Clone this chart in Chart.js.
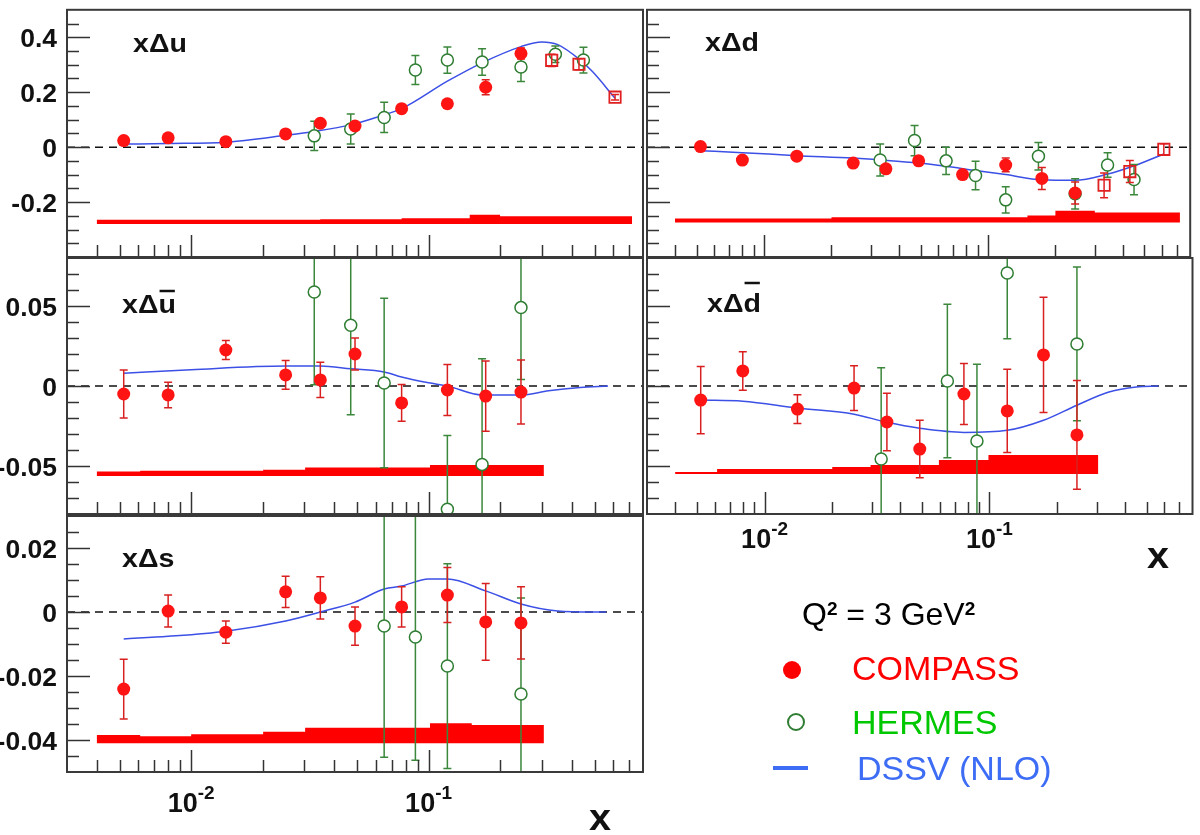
<!DOCTYPE html>
<html>
<head>
<meta charset="utf-8">
<script src="https://cdn.jsdelivr.net/npm/chart.js@4.4.1/dist/chart.umd.min.js"></script>
<style>
  html, body { margin: 0; padding: 0; background: #fff; }
  #wrap { position: relative; width: 1200px; height: 835px; overflow: hidden; font-family: "Liberation Sans", Arial, sans-serif; }
  #wrap canvas { position: absolute; left: 0; top: 0; }
  .leg { position: absolute; white-space: nowrap; font-size: 34px; line-height: 34px; }
  .sup { font-size: 19px; font-weight: bold; position: relative; top: -10px; }
</style>
</head>
<body>
<div id="wrap">
  <canvas id="cU" width="1200" height="835"></canvas>
  <canvas id="cD" width="1200" height="835"></canvas>
  <canvas id="cUbar" width="1200" height="835"></canvas>
  <canvas id="cDbar" width="1200" height="835"></canvas>
  <canvas id="cS" width="1200" height="835"></canvas>

  <div class="leg" style="left:802px; top:598px; font-size:32px; line-height:32px; color:#000;">Q<span class="sup">2</span> = 3 GeV<span class="sup">2</span></div>
  <div style="position:absolute; left:783px; top:661px; width:18px; height:18px; border-radius:50%; background:#ff0000;"></div>
  <div class="leg" style="left:852px; top:651px; color:#ff0000;">COMPASS</div>
  <div style="position:absolute; left:787px; top:713px; width:18px; height:18px; box-sizing:border-box; border-radius:50%; border:2.5px solid #2e7d32;"></div>
  <div class="leg" style="left:852px; top:705px; color:#00c800;">HERMES</div>
  <div style="position:absolute; left:773px; top:766px; width:35px; height:4px; background:#3d6cf5;"></div>
  <div class="leg" style="left:857px; top:751px; color:#3d6cf5;">DSSV (NLO)</div>
</div>

<script>
// x positions of the measured bins
const xCompass = [0.0052, 0.008, 0.014, 0.025, 0.035, 0.049, 0.077, 0.12, 0.174, 0.245];
const xHermes = [0.033, 0.047, 0.065, 0.088, 0.12, 0.168, 0.245, 0.342, 0.449];
const xHighX = [0.33, 0.43, 0.61];   // red open squares (top panels only)

// x Delta u
const uCompass = [0.024, 0.034, 0.020, 0.048, 0.087, 0.077, 0.140, 0.158, 0.218, 0.341];
const uCompassErr = [0.008, 0.008, 0.008, 0.008, 0.01, 0.01, 0.012, 0.012, 0.027, 0.02];
const uHermes = [0.041, 0.066, 0.108, 0.281, 0.317, 0.310, 0.292, 0.338, 0.317];
const uHermesErr = [0.053, 0.055, 0.055, 0.053, 0.048, 0.048, 0.053, 0.03, 0.047];
const uHighX = [0.316, 0.302, 0.182];
const uHighXErr = [0.022, 0.02, 0.01];
const uCurveX = [0.0052, 0.008, 0.014, 0.025, 0.033, 0.047, 0.062, 0.077, 0.12, 0.168, 0.245, 0.3, 0.35, 0.435, 0.49, 0.61];
const uCurveY = [0.011, 0.013, 0.018, 0.043, 0.057, 0.081, 0.112, 0.14, 0.24, 0.307, 0.366, 0.383, 0.373, 0.317, 0.275, 0.178];
const uBandEdges = [0.004, 0.035, 0.077, 0.149, 0.2, 0.41, 0.72];
const uBandTop = [-0.265, -0.264, -0.263, -0.259, -0.246, -0.252];
const uBandBase = -0.28;

// x Delta d
const dCompass = [0.002, -0.047, -0.033, -0.058, -0.079, -0.05, -0.1, -0.065, -0.114, -0.167];
const dCompassErr = [0.012, 0.008, 0.008, 0.008, 0.015, 0.01, 0.01, 0.025, 0.04, 0.04];
const dHermes = [-0.047, 0.024, -0.05, -0.103, -0.192, -0.033, -0.17, -0.065, -0.118];
const dHermesErr = [0.058, 0.055, 0.05, 0.052, 0.048, 0.05, 0.055, 0.045, 0.055];
const dHighX = [-0.139, -0.089, -0.008];
const dHighXErr = [0.045, 0.04, 0.02];
const dCurveX = [0.0052, 0.008, 0.014, 0.025, 0.035, 0.049, 0.065, 0.088, 0.12, 0.174, 0.245, 0.34, 0.45, 0.61];
const dCurveY = [-0.013, -0.02, -0.031, -0.04, -0.048, -0.058, -0.07, -0.085, -0.1, -0.119, -0.121, -0.099, -0.068, -0.025];
const dBandEdges = [0.004, 0.02, 0.15, 0.2, 0.3, 0.41, 0.72];
const dBandTop = [-0.268, -0.26, -0.255, -0.249, -0.232, -0.238];
const dBandBase = -0.274;

// x Delta u-bar
const ubCompass = [-0.005, -0.0056, 0.0225, 0.0069, 0.0038, 0.02, -0.0106, -0.0025, -0.0063, -0.0038];
const ubCompassErr = [0.015, 0.008, 0.006, 0.009, 0.011, 0.01, 0.0115, 0.016, 0.022, 0.02];
const ubHermes = [0.0588, 0.038, 0.0019, null, -0.077, -0.049, 0.049, null, null];
const ubHermesErr = [0.058, 0.056, 0.053, null, 0.046, 0.066, 0.045, null, null];
const ubCurveX = [0.0052, 0.01, 0.025, 0.035, 0.047, 0.065, 0.077, 0.1, 0.12, 0.168, 0.245, 0.32, 0.435, 0.57];
const ubCurveY = [0.008, 0.0102, 0.0125, 0.0125, 0.0108, 0.0088, 0.0056, 0.002, 0.0, -0.0056, -0.0056, -0.003, -0.001, 0.0];
const ubBandEdges = [0.004, 0.0061, 0.0201, 0.0302, 0.1014, 0.152, 0.306];
const ubBandTop = [-0.0525, -0.0535, -0.053, -0.0523, -0.051, -0.0494];
const ubBandBase = -0.0563;

// x Delta d-bar
const dbCompass = [-0.0088, 0.0094, -0.0144, -0.0013, -0.0225, -0.0394, -0.005, -0.0156, 0.0194, -0.0306];
const dbCompassErr = [0.021, 0.012, 0.009, 0.014, 0.018, 0.018, 0.019, 0.026, 0.036, 0.034];
const dbHermes = [-0.0456, null, 0.0031, -0.0344, 0.0706, null, 0.0263, null, null];
const dbHermesErr = [0.057, null, 0.048, 0.048, 0.041, null, 0.048, null, null];
const dbCurveX = [0.0052, 0.008, 0.014, 0.025, 0.035, 0.049, 0.077, 0.12, 0.174, 0.245, 0.34, 0.45, 0.565];
const dbCurveY = [-0.0088, -0.0095, -0.0138, -0.0176, -0.0227, -0.0264, -0.029, -0.0277, -0.0214, -0.012, -0.0038, -0.0006, 0];
const dbBandEdges = [0.004, 0.00615, 0.02, 0.0296, 0.0596, 0.099, 0.15, 0.305];
const dbBandTop = [-0.0513, -0.0538, -0.0519, -0.0506, -0.0494, -0.0463, -0.0431];
const dbBandBase = -0.055;

// x Delta s
const sCompass = [-0.0241, 0.0003, -0.0063, 0.0063, 0.0044, -0.0044, 0.0016, 0.0053, -0.0031, -0.0034];
const sCompassErr = [0.0093, 0.005, 0.0035, 0.0049, 0.0066, 0.006, 0.0063, 0.0086, 0.012, 0.0113];
const sHermes = [null, null, -0.0044, -0.0078, -0.0169, null, -0.0256, null, null];
const sHermesErr = [null, null, 0.041, 0.0385, 0.032, null, 0.03, null, null];
const sCurveX = [0.0052, 0.008, 0.014, 0.025, 0.035, 0.049, 0.065, 0.077, 0.1, 0.12, 0.174, 0.245, 0.35, 0.49, 0.56];
const sCurveY = [-0.0084, -0.0076, -0.006, -0.0028, 0, 0.0031, 0.0072, 0.0081, 0.0103, 0.0103, 0.0066, 0.0025, 0.0003, 0, 0];
const sBandEdges = [0.004, 0.0061, 0.01, 0.0201, 0.0302, 0.1014, 0.152, 0.203, 0.306];
const sBandTop = [-0.0362, -0.0384, -0.0388, -0.0382, -0.0374, -0.0362, -0.0348, -0.0353];
const sBandBase = -0.041;

const FONT = '"Liberation Sans", Arial, sans-serif';

function points(xs, ys, errs) {
    return xs.map((x, i) => ({ x: x, y: ys[i], e: errs ? errs[i] : 0 }))
        .filter(p => p.y !== null && p.y !== undefined);
}

// step-after outline of the systematic band
function bandPoints(edges, tops) {
    const pts = edges.slice(0, -1).map((x, i) => ({ x: x, y: tops[i] }));
    pts.push({ x: edges[edges.length - 1], y: tops[tops.length - 1] });
    return pts;
}

// bold text, slightly widened like the original
function boldText(ctx, s, x, y, size, align, sx) {
    ctx.save();
    ctx.font = 'bold ' + size + 'px ' + FONT;
    const w = ctx.measureText(s).width * sx;
    const x0 = align === 'right' ? x - w : (align === 'center' ? x - w / 2 : x);
    ctx.translate(x0, y);
    ctx.scale(sx, 1);
    ctx.textAlign = 'left';
    ctx.fillText(s, 0, 0);
    ctx.restore();
    return w;
}

const errorBars = {
    id: 'errorBars',
    beforeDatasetDraw(chart, args) {
        const ds = chart.data.datasets[args.index];
        if (!ds.errColor) return;
        const { ctx, chartArea: a, scales: { x, y } } = chart;
        ctx.save();
        ctx.beginPath();
        ctx.rect(a.left, a.top, a.right - a.left, a.bottom - a.top);
        ctx.clip();
        ctx.strokeStyle = ds.errColor;
        ctx.lineWidth = 1.5;
        ds.data.forEach(p => {
            if (!p.e) return;
            const px = x.getPixelForValue(p.x);
            const y1 = y.getPixelForValue(p.y + p.e);
            const y2 = y.getPixelForValue(p.y - p.e);
            ctx.beginPath();
            ctx.moveTo(px, y1); ctx.lineTo(px, y2);
            ctx.moveTo(px - 4, y1); ctx.lineTo(px + 4, y1);
            ctx.moveTo(px - 4, y2); ctx.lineTo(px + 4, y2);
            ctx.stroke();
        });
        ctx.restore();
    }
};

// ROOT-like frame: inward ticks, dashed zero line, labels
const rootAxes = {
    id: 'rootAxes',
    beforeDatasetsDraw(chart) {
        const { ctx, chartArea: a, scales: { y } } = chart;
        const y0 = y.getPixelForValue(0);
        ctx.save();
        ctx.strokeStyle = '#111';
        ctx.lineWidth = 1.5;
        ctx.setLineDash([8, 6]);
        ctx.beginPath();
        ctx.moveTo(a.left, y0);
        ctx.lineTo(a.right, y0);
        ctx.stroke();
        ctx.restore();
    },
    afterDraw(chart, args, opts) {
        const { ctx, chartArea: a, scales: { x, y } } = chart;
        ctx.save();
        ctx.strokeStyle = '#333';
        ctx.fillStyle = '#111';

        // x ticks (log)
        ctx.lineWidth = 1.5;
        for (let k = -3; k <= -1; k++) {
            for (let m = 1; m <= 9; m++) {
                const v = m * Math.pow(10, k);
                if (v < 0.0031 || v > 0.79) continue;
                const px = Math.round(x.getPixelForValue(v)) + 0.5;
                const len = m === 1 ? 22 : 12;
                ctx.beginPath();
                ctx.moveTo(px, a.bottom);
                ctx.lineTo(px, a.bottom - len);
                ctx.stroke();
            }
        }

        // y ticks
        const n = Math.round((opts.yMax - opts.yMin) / opts.yMinor);
        for (let i = 1; i < n; i++) {
            const v = opts.yMin + i * opts.yMinor;
            const r = v / opts.yMajor;
            const major = Math.abs(r - Math.round(r)) < 1e-6;
            const py = Math.round(y.getPixelForValue(v)) + 0.5;
            ctx.beginPath();
            ctx.moveTo(a.left, py);
            ctx.lineTo(a.left + (major ? 23 : 12), py);
            ctx.stroke();
        }

        // frame
        ctx.lineWidth = 2;
        ctx.strokeStyle = '#3a3a3a';
        ctx.strokeRect(a.left, a.top, a.right - a.left, a.bottom - a.top);

        // y tick labels
        if (opts.yLabels) {
            ctx.textBaseline = 'middle';
            opts.yLabels.forEach((v, i) => {
                boldText(ctx, opts.yLabelText[i], 57, y.getPixelForValue(v) + 3, 25, 'right', 1.06);
            });
        }

        // x tick labels 10^-2, 10^-1
        if (opts.xLabelY) {
            ctx.textBaseline = 'alphabetic';
            [[0.01, '-2'], [0.1, '-1']].forEach(([v, ex]) => {
                ctx.font = 'bold 27px ' + FONT;
                const w1 = ctx.measureText('10').width;
                ctx.font = 'bold 19px ' + FONT;
                const w2 = ctx.measureText(ex).width;
                const x0 = x.getPixelForValue(v) - (w1 + w2) / 2;
                boldText(ctx, '10', x0, opts.xLabelY, 27, 'left', 1);
                boldText(ctx, ex, x0 + w1, opts.xLabelY - 13, 19, 'left', 1);
            });
            boldText(ctx, 'x', opts.xTitle[0], opts.xTitle[1], 36, 'center', 1.1);
        }

        // panel title, with optional bar over the last letter
        const t = opts.title;
        ctx.textBaseline = 'alphabetic';
        ctx.font = 'bold 26px ' + FONT;
        const w1 = ctx.measureText('x\u0394').width;
        const w2 = ctx.measureText(t.q).width;
        const sx = 1.1;
        boldText(ctx, 'x\u0394' + t.q, t.x, t.y, 26, 'left', sx);
        if (t.bar) {
            ctx.strokeStyle = '#111';
            ctx.lineWidth = 2.5;
            ctx.beginPath();
            ctx.moveTo(t.x + (w1 + 1) * sx, t.y - t.bar);
            ctx.lineTo(t.x + (w1 + w2 - 1) * sx, t.y - t.bar);
            ctx.stroke();
        }
        ctx.restore();
    }
};

function makePanel(id, p) {
    const datasets = [
        {
            label: 'COMPASS',
            data: points(xCompass, p.compass, p.compassErr),
            showLine: false,
            pointStyle: 'circle',
            pointRadius: 6.5,
            pointBackgroundColor: '#ff1414',
            pointBorderColor: '#ff1414',
            pointBorderWidth: 0,
            errColor: '#d82020',
            order: 1
        },
        {
            label: 'HERMES',
            data: points(xHermes, p.hermes, p.hermesErr),
            showLine: false,
            pointStyle: 'circle',
            pointRadius: 6,
            pointBackgroundColor: '#ffffff',
            pointBorderColor: '#2e7d32',
            pointBorderWidth: 1.5,
            errColor: '#3b873b',
            order: 3
        },
        {
            label: 'DSSV (NLO)',
            data: points(p.curveX, p.curveY),
            borderColor: '#3c50e6',
            borderWidth: 1.5,
            pointRadius: 0,
            cubicInterpolationMode: 'monotone',
            fill: false,
            order: 4
        },
        {
            label: 'syst',
            data: bandPoints(p.bandEdges, p.bandTop),
            stepped: 'after',
            borderColor: 'rgba(0,0,0,0)',
            borderWidth: 1,
            pointRadius: 0,
            backgroundColor: '#ff0000',
            fill: { value: p.bandBase },
            order: 5
        }
    ];
    if (p.highX) {
        datasets.push({
            label: 'high x',
            data: points(xHighX, p.highX, p.highXErr),
            showLine: false,
            pointStyle: 'rect',
            pointRadius: 8,
            pointBackgroundColor: 'rgba(255,255,255,0)',
            pointBorderColor: '#e02020',
            pointBorderWidth: 1.8,
            errColor: '#e02020',
            order: 2
        });
    }

    return new Chart(document.getElementById(id), {
        type: 'line',
        data: { datasets: datasets },
        options: {
            responsive: false,
            animation: false,
            devicePixelRatio: 1,
            events: [],
            layout: {
                padding: { left: p.box[0], top: p.box[1], right: 1200 - p.box[2], bottom: 835 - p.box[3] }
            },
            scales: {
                x: { type: 'logarithmic', min: 0.003, max: 0.8, display: false },
                y: { type: 'linear', min: p.yMin, max: p.yMax, display: false }
            },
            plugins: {
                legend: { display: false },
                tooltip: { enabled: false },
                rootAxes: {
                    yMin: p.yMin, yMax: p.yMax, yMajor: p.yMajor, yMinor: p.yMinor,
                    yLabels: p.yLabels, yLabelText: p.yLabelText,
                    xLabelY: p.xLabelY, xTitle: p.xTitle,
                    title: p.title
                }
            }
        },
        plugins: [errorBars, rootAxes]
    });
}

makePanel('cU', {
    box: [67, 2, 643, 257], yMin: -0.4, yMax: 0.5, yMajor: 0.2, yMinor: 0.05,
    yLabels: [0.4, 0.2, 0, -0.2], yLabelText: ['0.4', '0.2', '0', '-0.2'],
    compass: uCompass, compassErr: uCompassErr, hermes: uHermes, hermesErr: uHermesErr,
    highX: uHighX, highXErr: uHighXErr, curveX: uCurveX, curveY: uCurveY,
    bandEdges: uBandEdges, bandTop: uBandTop, bandBase: uBandBase,
    title: { q: 'u', x: 133, y: 52, bar: 0 }
});

makePanel('cD', {
    box: [647, 2, 1197, 257], yMin: -0.4, yMax: 0.5, yMajor: 0.2, yMinor: 0.05,
    compass: dCompass, compassErr: dCompassErr, hermes: dHermes, hermesErr: dHermesErr,
    highX: dHighX, highXErr: dHighXErr, curveX: dCurveX, curveY: dCurveY,
    bandEdges: dBandEdges, bandTop: dBandTop, bandBase: dBandBase,
    title: { q: 'd', x: 705, y: 51, bar: 0 }
});

makePanel('cUbar', {
    box: [67, 258, 643, 514], yMin: -0.08, yMax: 0.08, yMajor: 0.05, yMinor: 0.01,
    yLabels: [0.05, 0, -0.05], yLabelText: ['0.05', '0', '-0.05'],
    compass: ubCompass, compassErr: ubCompassErr, hermes: ubHermes, hermesErr: ubHermesErr,
    curveX: ubCurveX, curveY: ubCurveY,
    bandEdges: ubBandEdges, bandTop: ubBandTop, bandBase: ubBandBase,
    title: { q: 'u', x: 122, y: 313, bar: 22 }
});

makePanel('cDbar', {
    box: [647, 258, 1197, 514], yMin: -0.08, yMax: 0.08, yMajor: 0.05, yMinor: 0.01,
    compass: dbCompass, compassErr: dbCompassErr, hermes: dbHermes, hermesErr: dbHermesErr,
    curveX: dbCurveX, curveY: dbCurveY,
    bandEdges: dbBandEdges, bandTop: dbBandTop, bandBase: dbBandBase,
    xLabelY: 548, xTitle: [1158, 568],
    title: { q: 'd', x: 707, y: 312, bar: 29 }
});

makePanel('cS', {
    box: [67, 516, 643, 772], yMin: -0.05, yMax: 0.03, yMajor: 0.02, yMinor: 0.005,
    yLabels: [0.02, 0, -0.02, -0.04], yLabelText: ['0.02', '0', '-0.02', '-0.04'],
    compass: sCompass, compassErr: sCompassErr, hermes: sHermes, hermesErr: sHermesErr,
    curveX: sCurveX, curveY: sCurveY,
    bandEdges: sBandEdges, bandTop: sBandTop, bandBase: sBandBase,
    xLabelY: 812, xTitle: [600, 830],
    title: { q: 's', x: 122, y: 567, bar: 0 }
});
</script>
</body>
</html>
